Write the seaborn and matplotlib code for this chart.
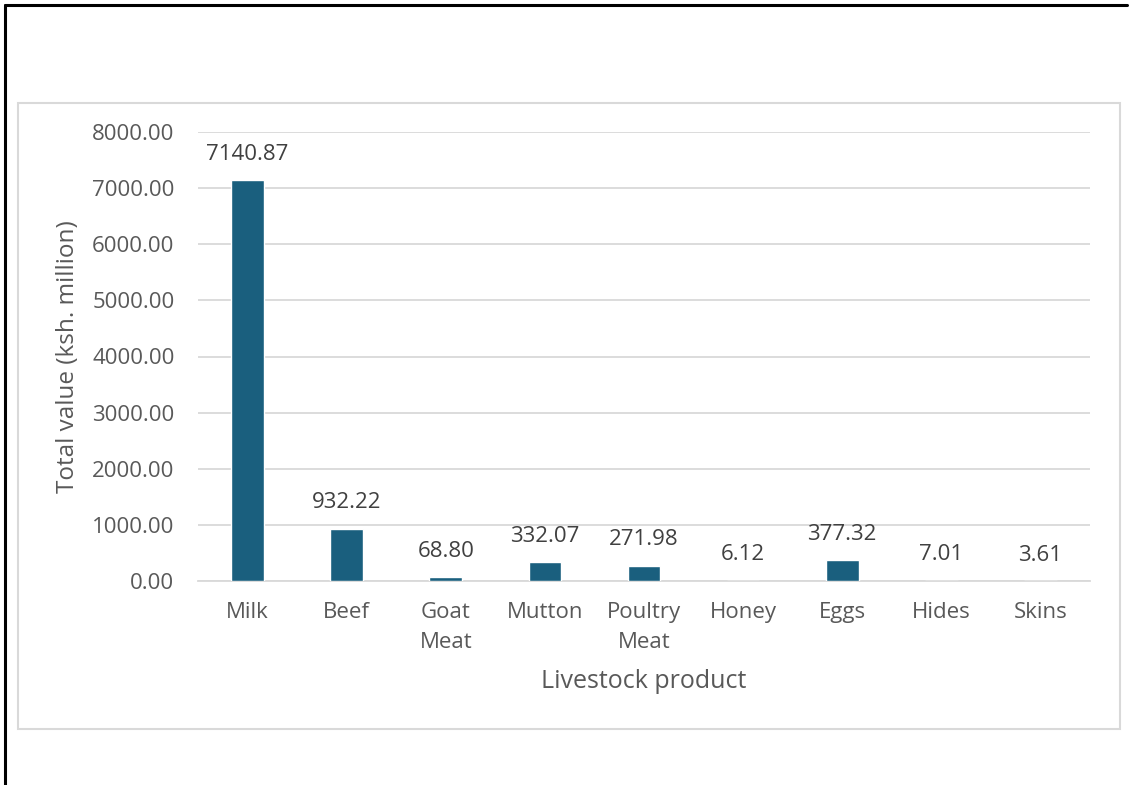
import matplotlib
matplotlib.use("Agg")
import matplotlib.pyplot as plt
from matplotlib.lines import Line2D
from matplotlib.patches import Rectangle
import seaborn as sns
import pandas as pd

products = ["Milk", "Beef", "Goat\nMeat", "Mutton", "Poultry\nMeat", "Honey", "Eggs", "Hides", "Skins"]
values = [7140.87, 932.22, 68.80, 332.07, 271.98, 6.12, 377.32, 7.01, 3.61]
y_ticks = [0, 1000, 2000, 3000, 4000, 5000, 6000, 7000, 8000]

bar_color = "#1A5F7E"
text_color = "#595959"
grid_color = "#D9D9D9"

sns.set_theme(style="white")
plt.rcParams["font.family"] = ["Open Sans", "DejaVu Sans"]

W, H = 1132, 785
fig = plt.figure(figsize=(W / 100, H / 100), dpi=100)
fig.patch.set_facecolor("white")

# chart frame (light grey) and outer black edges
fig.add_artist(Rectangle((18 / W, 1 - 729 / H), (1120 - 18) / W, (729 - 103) / H,
                         transform=fig.transFigure, fill=False, edgecolor="#D9D9D9", lw=1.5))
fig.add_artist(Line2D([5 / W, 5 / W], [0, 1 - 5 / H], transform=fig.transFigure, color="black", lw=2.2))
fig.add_artist(Line2D([5 / W, 1127 / W], [1 - 5 / H, 1 - 5 / H], transform=fig.transFigure, color="black", lw=2.2))

left, right, top, bottom = 198, 1090, 132, 581
ax = fig.add_axes([left / W, 1 - bottom / H, (right - left) / W, (bottom - top) / H])

df = pd.DataFrame({"product": products, "value": values})
sns.barplot(data=df, x="product", y="value", color=bar_color, width=0.33,
            saturation=1, ax=ax, zorder=3)

ax.set_ylim(0, 8000)
ax.set_yticks(y_ticks)
ax.set_yticklabels([f"{v:.2f}" for v in y_ticks])
ax.yaxis.grid(True, color=grid_color, lw=1.3, zorder=0)
ax.set_axisbelow(True)
for s in ["top", "right", "left"]:
    ax.spines[s].set_visible(False)
ax.spines["bottom"].set_color(grid_color)
ax.spines["bottom"].set_linewidth(1.3)
ax.tick_params(axis="both", length=0, labelsize=16, labelcolor=text_color)
ax.tick_params(axis="x", pad=15)
ax.tick_params(axis="y", pad=17)
for lbl in ax.get_xticklabels():
    lbl.set_linespacing(1.6)

ax.bar_label(ax.containers[0], fmt="%.2f", padding=11, fontsize=16, color="#404040")

ax.set_xlabel("Livestock product", fontsize=18, color=text_color, labelpad=11)
ax.set_ylabel("Total value (ksh. million)", fontsize=17.5, color=text_color, labelpad=9)

fig.savefig("out.png", dpi=100, facecolor="white")
